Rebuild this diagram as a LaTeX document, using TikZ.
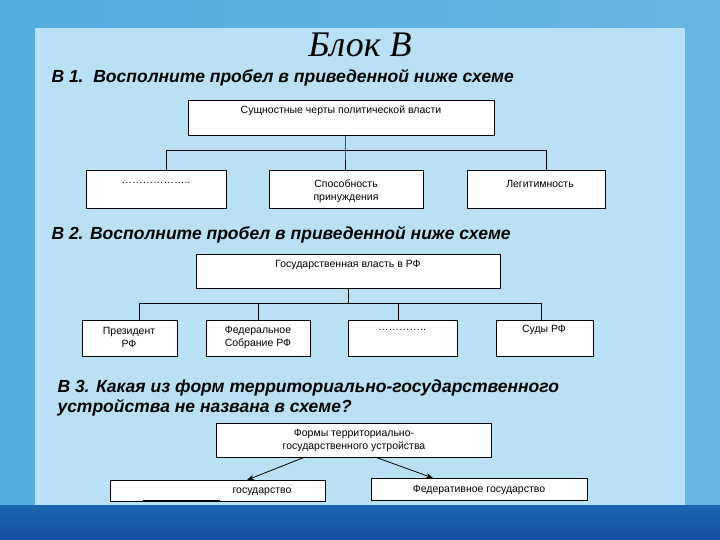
\documentclass[tikz,border=0pt]{standalone}
\usepackage{fontspec}
\setmainfont{Liberation Sans}
\newfontfamily\titlefont{Liberation Serif}
\usetikzlibrary{arrows.meta}
\definecolor{bgouter}{RGB}{40,150,215}
\definecolor{bgpanel}{RGB}{185,225,245}
\definecolor{band}{RGB}{20,80,160}
\tikzset{
 bx/.style={draw=black,fill=white,line width=0.8pt,inner sep=0pt},
 lab/.style={font=\fontsize{10.5}{13}\selectfont,align=center},
 q/.style={font=\fontsize{17.5}{20}\selectfont\bfseries\itshape,anchor=west,align=left},
 ln/.style={line width=0.8pt},
}
\begin{document}
\begin{tikzpicture}[x=1pt,y=-1pt]
\useasboundingbox (0,0) rectangle (720,540);
\shade[left color=bgouter!80!white,right color=bgouter!70!white] (0,0) rectangle (720,540);
\fill[bgpanel] (35,28) rectangle (685,530);
\shade[top color=band!70!bgouter,bottom color=band] (0,505) rectangle (720,540);
\node[font=\titlefont\itshape\fontsize{36}{40}\selectfont] (title) at (360,45) {Блок В};
% B1
\node[q] (q1) at (48,78) {В 1.\ \ Восполните пробел в приведенной ниже схеме};
\draw[bx] (188,100) rectangle (494,135); \node[lab] (t1) at (341,111) {Сущностные черты политической власти};
\coordinate (t1b) at (345,135);
\draw[bx] (86,170) rectangle (226,208); \node[lab] (a1) at (156,183) {\dots\dots\dots\dots\dots\dots..};
\draw[bx] (269,170) rectangle (423,208); \node[lab] (a2) at (346,191) {Способность\\принуждения};
\draw[bx] (467,170) rectangle (605,208); \node[lab] (a3) at (540,184) {Легитимность};
\coordinate (h1l) at (166,150); \coordinate (h1r) at (546,150); \coordinate (h1m) at (345,150);
\draw[ln] (t1b) -- (h1m) -- ++(0,20) (h1l) -- (h1r) (h1l) -- ++(0,20) (h1r) -- ++(0,20);
% B2
\node[q] (q2) at (48,235) {В 2. Восполните пробел в приведенной ниже схеме};
\draw[bx] (196,254) rectangle (500,288); \node[lab] (t2) at (348,265) {Государственная власть в РФ};
\draw[bx] (82,320) rectangle (177,356); \node[lab] (b1) at (129,337) {Президент\\РФ};
\draw[bx] (206,320) rectangle (310,356); \node[lab] (b2) at (258,337) {Федеральное\\Собрание РФ};
\draw[bx] (348,320) rectangle (457,356); \node[lab] (b3) at (402,330) {\dots\dots\dots\dots..};
\draw[bx] (496,320) rectangle (593,356); \node[lab] (b4) at (544,330) {Суды РФ};
\coordinate (t2b) at (348,288); \coordinate (h2m) at (348,303);
\coordinate (h2a) at (139,303); \coordinate (h2b) at (258,303); \coordinate (h2c) at (398,303); \coordinate (h2d) at (541,303);
\draw[ln] (t2b) -- (h2m) (h2a) -- (h2d);
\foreach \c in {h2a,h2b,h2c,h2d} \draw[ln] (\c) -- ++(0,17);
% B3
\node[q] (q3) at (54,398) {В 3. Какая из форм территориально-государственного\\устройства не названа в схеме?};
\draw[bx] (216,423) rectangle (491,457); \node[lab] (t3) at (354,440) {Формы территориально-\\государственного устройства};
\draw[bx] (110,480) rectangle (325,501); \node[lab] (c1) at (262,492) {государство};
\draw[ln] (143,500) -- (220,500);
\draw[bx] (371,478) rectangle (587,500); \node[lab] (c2) at (479,490) {Федеративное государство};
\coordinate (s1) at (305,457); \coordinate (e1) at (247,480);
\coordinate (s2) at (375,457); \coordinate (e2) at (433,478);
\draw[ln,-{Stealth[length=7pt]}] (s1) -- (e1);
\draw[ln,-{Stealth[length=7pt]}] (s2) -- (e2);
\end{tikzpicture}
\end{document}
